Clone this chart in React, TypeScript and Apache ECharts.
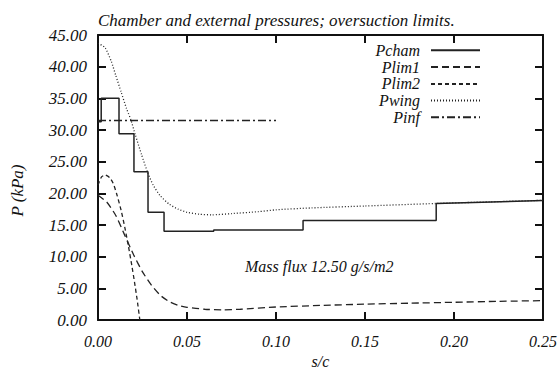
import React, { useEffect, useRef } from "react";
import * as echarts from "echarts";

const xTicks = [0, 0.05, 0.1, 0.15, 0.2, 0.25];
const yTicks = [0, 5, 10, 15, 20, 25, 30, 35, 40, 45];

const seriesNames = ["Pcham", "Plim1", "Plim2", "Pwing", "Pinf"];

const pcham: number[][] = [
  [0, 31.3], [0.0018, 31.3], [0.0018, 35.0], [0.0118, 35.0], [0.0118, 29.4],
  [0.0202, 29.4], [0.0202, 23.4], [0.0281, 23.4], [0.0281, 17.0], [0.0371, 17.0],
  [0.0371, 14.0], [0.065, 14.0], [0.065, 14.2], [0.1152, 14.2], [0.1152, 15.7],
  [0.19, 15.7], [0.19, 18.4], [0.25, 18.85],
];

const plim1: number[][] = [
  [0, 19.7], [0.005, 18.6], [0.01, 16.5], [0.015, 13.4], [0.02, 10.3], [0.025, 7.6],
  [0.03, 5.5], [0.035, 3.9], [0.04, 2.9], [0.045, 2.3], [0.05, 2.0], [0.06, 1.7],
  [0.07, 1.6], [0.08, 1.7], [0.1, 2.05], [0.125, 2.3], [0.15, 2.5], [0.175, 2.65],
  [0.2, 2.8], [0.225, 2.95], [0.25, 3.05],
];

const plim2: number[][] = [
  [0, 21.3], [0.002, 22.6], [0.004, 22.9], [0.0065, 22.5], [0.0085, 21.6],
  [0.0105, 19.9], [0.013, 17.3], [0.015, 14.7], [0.017, 11.8], [0.019, 8.6],
  [0.0205, 6.0], [0.022, 3.2], [0.0235, 0],
];

const pwing: number[][] = [
  [0, 43.7], [0.004, 43.0], [0.0075, 40.8], [0.01, 38.6], [0.013, 36.0], [0.016, 33.4],
  [0.0185, 31.6], [0.021, 29.2], [0.0245, 26.1], [0.028, 23.2], [0.031, 21.3],
  [0.035, 19.6], [0.04, 18.3], [0.045, 17.5], [0.05, 17.0], [0.057, 16.7], [0.064, 16.6],
  [0.075, 16.8], [0.09, 17.1], [0.1, 17.4], [0.12, 17.7], [0.15, 18.0], [0.19, 18.4],
  [0.22, 18.65], [0.25, 18.9],
];

const pinf: number[][] = [[0, 31.5], [0.1, 31.5]];

const titleText = "Chamber and external pressures; oversuction limits.";
const noteText = "Mass flux 12.50 g/s/m2";

const FONT = "Liberation Serif";
const INK = "#111";

export default function App() {
  const ref = useRef<HTMLDivElement>(null);
  useEffect(() => {
    if (!ref.current) return;
    const chart = echarts.init(ref.current, undefined, { renderer: "svg" });
    const textBase = { fontFamily: FONT, fontStyle: "italic", color: INK };
    const axisCommon = {
      type: "value",
      axisLine: { show: true, onZero: false, lineStyle: { color: INK, width: 2 } },
      axisTick: { show: true, inside: true, length: 8, lineStyle: { color: INK, width: 2 } },
      splitLine: { show: false },
    };
    const styles: any[] = [
      { type: "solid", width: 1.5 },
      { type: [7, 4], width: 1.3 },
      { type: [4, 3], width: 1.3 },
      { type: [1, 2], width: 1.3 },
      { type: [8, 3, 2, 3], width: 1.3 },
    ];
    const datas = [pcham, plim1, plim2, pwing, pinf];
    const rowY = [50.3, 67.1, 83.9, 100.6, 117.3];
    chart.setOption({
      animation: false,
      backgroundColor: "#fff",
      textStyle: { fontFamily: FONT, fontStyle: "italic" },
      title: {
        text: titleText,
        left: 98,
        top: 12,
        padding: 0,
        textStyle: { ...textBase, fontSize: 17, fontWeight: "normal" },
      },
      legend: seriesNames.map((n, i) => ({
        data: [n],
        orient: "vertical",
        right: 79,
        top: rowY[i] - 8,
        align: "right",
        itemWidth: 49,
        itemHeight: 16,
        padding: 0,
        selectedMode: false,
        itemStyle: { color: "rgba(0,0,0,0)", opacity: 0, borderWidth: 0 },
        textStyle: { ...textBase, fontSize: 16, lineHeight: 15, padding: [0, 6, 0, 0] },
      })),
      grid: { left: 98, right: 17, top: 35, bottom: 49, outerBoundsMode: "none", containLabel: false },
      xAxis: [
        {
          ...axisCommon,
          position: "bottom",
          min: 0,
          max: 0.25,
          interval: 0.05,
          name: "s/c",
          nameLocation: "middle",
          nameGap: 33,
          nameTextStyle: { ...textBase, fontSize: 16 },
          axisLabel: { ...textBase, fontSize: 16, margin: 13, formatter: (v: number) => v.toFixed(2) },
        },
        {
          ...axisCommon,
          position: "top",
          min: 0,
          max: 0.25,
          interval: 0.05,
          axisLabel: { show: false },
        },
      ],
      yAxis: [
        {
          ...axisCommon,
          position: "left",
          min: 0,
          max: 45,
          interval: 5,
          name: "P (kPa)",
          nameLocation: "middle",
          nameGap: 72,
          nameTextStyle: { ...textBase, fontSize: 17, padding: [0, 26, 0, 0] },
          axisLabel: { ...textBase, fontSize: 17, margin: 11, formatter: (v: number) => v.toFixed(2) },
        },
        {
          ...axisCommon,
          position: "right",
          min: 0,
          max: 45,
          interval: 5,
          axisLabel: { show: false },
        },
      ],
      graphic: [
        {
          type: "text",
          left: 245,
          top: 258,
          style: { text: noteText, fontFamily: FONT, fontStyle: "italic", fontSize: 16, fill: INK },
        },
      ],
      series: seriesNames.map((n, i) => ({
        name: n,
        type: "line",
        data: datas[i],
        xAxisIndex: 0,
        yAxisIndex: 0,
        showSymbol: false,
        symbol: "none",
        smooth: i === 0 || i === 4 ? false : 0.2,
        lineStyle: { color: "#222", ...styles[i] },
        itemStyle: { color: "#222" },
        z: 3,
      })),
    });
    return () => chart.dispose();
  }, []);
  return (
    <div
      ref={ref}
      style={{ position: "fixed", left: 0, top: 0, width: 560, height: 369 }}
    />
  );
}
